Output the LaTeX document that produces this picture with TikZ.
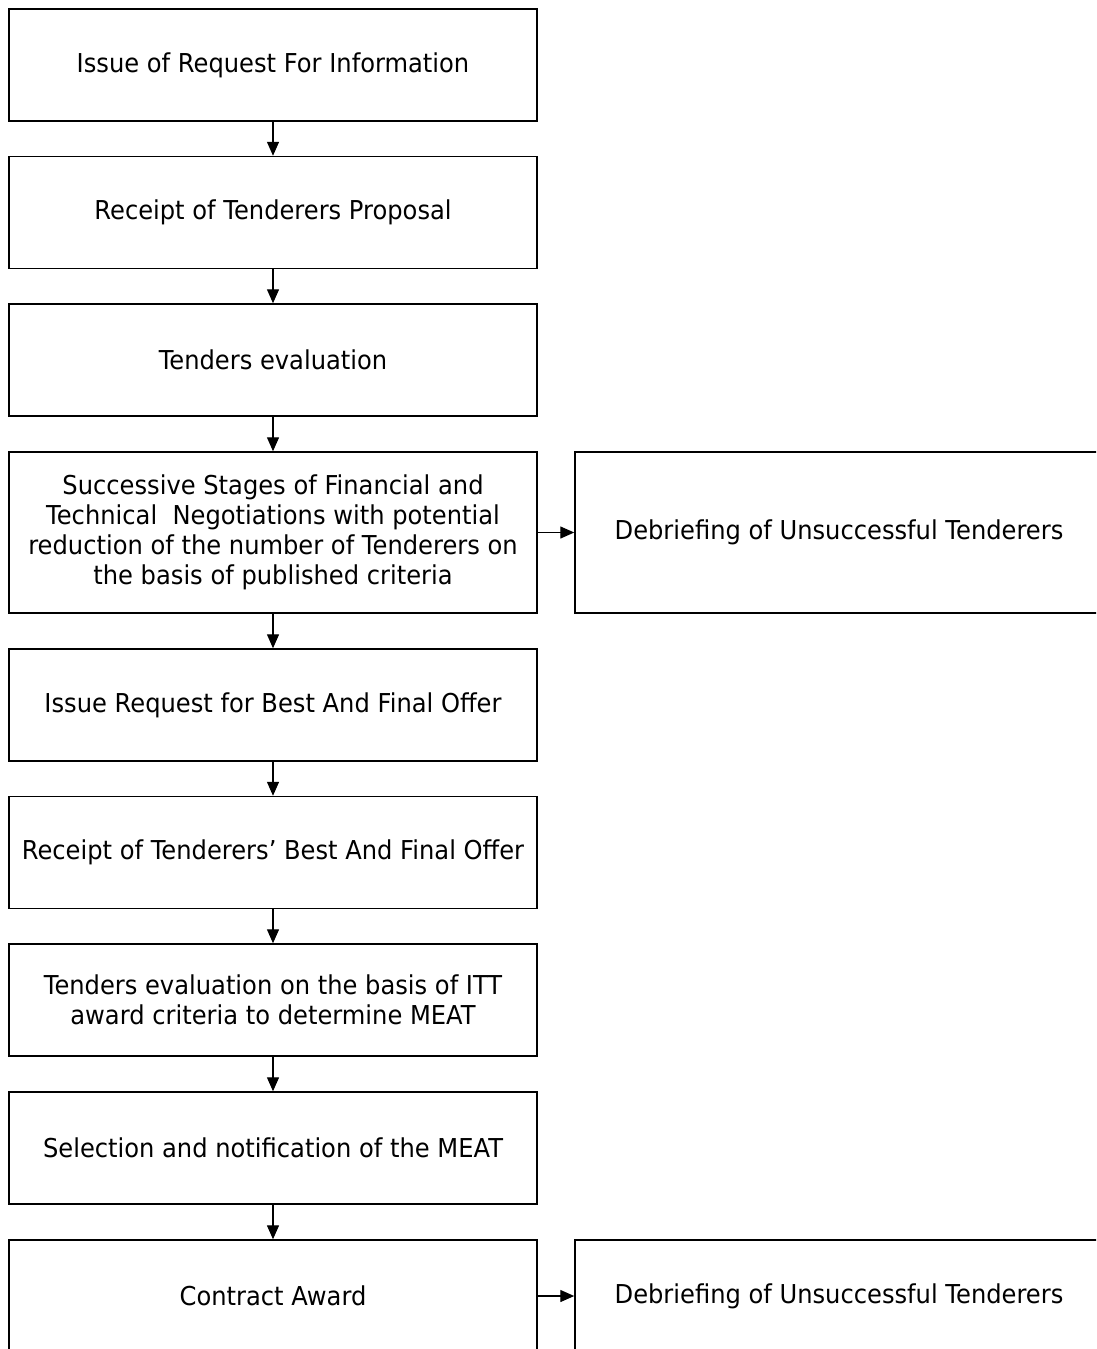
\documentclass[tikz,border=0pt]{standalone}
\usepackage{fontspec}
\setmainfont[FakeStretch=0.93]{DejaVu Sans}
\usetikzlibrary{arrows.meta}
\begin{document}
\begin{tikzpicture}[x=1pt,y=-1pt,
  box/.style={draw, line width=1.5pt, minimum width=528pt, minimum height=112pt,
    inner sep=0pt, align=center, font=\fontsize{26}{30}\selectfont},
  tallbox/.style={box, minimum height=161pt},
  arr/.style={draw, line width=1.4pt, -{Triangle[length=14pt,width=12pt]}}]
\useasboundingbox (0,0) rectangle (1096,1349);
\clip (0,0) rectangle (1096,1349);
\node[box] (b1) at (273,65) {Issue of Request For Information};
\node[box] (b2) at (273,212.5) {Receipt of Tenderers Proposal};
\node[box] (b3) at (273,360) {Tenders evaluation};
\node[tallbox] (b4) at (273,532.5) {Successive Stages of Financial and\\Technical\ \ Negotiations with potential\\reduction of the number of Tenderers on\\the basis of published criteria};
\node[tallbox] (r1) at (839,532.5) {Debriefing of Unsuccessful Tenderers};
\node[box] (b5) at (273,705) {Issue Request for Best And Final Offer};
\node[box] (b6) at (273,852.5) {Receipt of Tenderers’ Best And Final Offer};
\node[box] (b7) at (273,1000) {Tenders evaluation on the basis of ITT\\award criteria to determine MEAT};
\node[box] (b8) at (273,1148) {Selection and notification of the MEAT};
\node[box] (b9) at (273,1296) {Contract Award};
\node[box] (r2) at (839,1296) {Debriefing of Unsuccessful Tenderers};
\draw[arr] (b1) -- (b2);
\draw[arr] (b2) -- (b3);
\draw[arr] (b3) -- (b4);
\draw[arr] (b4) -- (b5);
\draw[arr] (b5) -- (b6);
\draw[arr] (b6) -- (b7);
\draw[arr] (b7) -- (b8);
\draw[arr] (b8) -- (b9);
\draw[arr] (b4) -- (r1);
\draw[arr] (b9) -- (r2);
\end{tikzpicture}
\end{document}
